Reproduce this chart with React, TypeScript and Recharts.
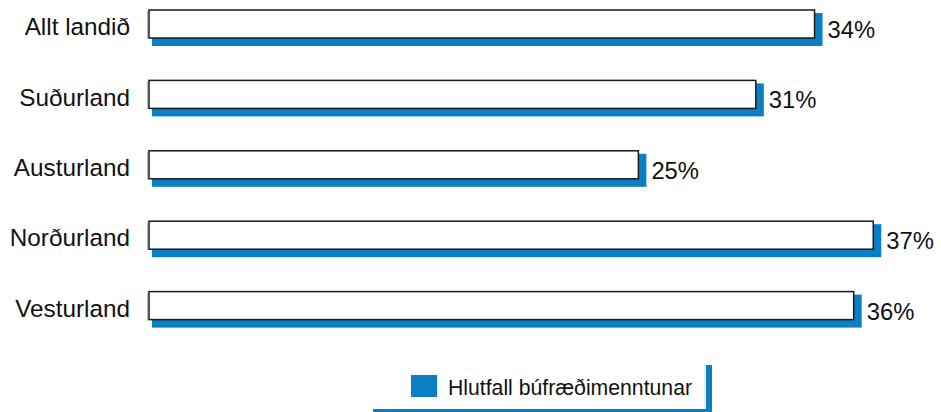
import React from 'react';
import { BarChart, Bar, XAxis, YAxis, Legend, LabelList } from 'recharts';

const categories = ['Allt landið', 'Suðurland', 'Austurland', 'Norðurland', 'Vesturland'];
const values = [34, 31, 25, 37, 36];
const seriesName = 'Hlutfall búfræðimenntunar';

const data = categories.map((name, i) => ({ name, value: values[i] }));

const BLUE = '#0A7FC4';
const FONT = '"Liberation Sans", Arial, sans-serif';

const ShadowBar = (props: any) => {
  const { x, y, width, height } = props;
  return (
    <g>
      <rect x={x + 3} y={y + 3} width={width + 5} height={height + 5} fill={BLUE} />
      <line x1={x - 1.5} y1={y + 1} x2={x - 1.5} y2={y + height + 1} stroke="#bbb" strokeWidth={1} />
      <rect x={x} y={y} width={width} height={height} fill="#fff" stroke="#1a1a1a" strokeWidth={1.5} />
    </g>
  );
};

const CatTick = (props: any) => {
  const { y, payload } = props;
  return (
    <text x={130} y={y + 11} textAnchor="end" fontSize={24.3} fontFamily={FONT} fill="#111">
      {payload.value}
    </text>
  );
};

const ValueLabel = (props: any) => {
  const { x, y, width, height, value } = props;
  return (
    <text x={x + width + 13} y={y + height / 2 + 14} textAnchor="start" fontSize={23.8} fontFamily={FONT} fill="#111">
      {`${value}%`}
    </text>
  );
};

const LegendBox = () => (
  <svg width={345} height={54} style={{ display: 'block' }}>
    <rect x={4} y={7} width={339} height={50} fill={BLUE} />
    <rect x={0} y={0} width={337} height={51} fill="#fff" />
    <line x1={336} y1={7} x2={336} y2={51} stroke="#d8d8d8" strokeWidth={1} />
    <rect x={42} y={17} width={26} height={22} fill={BLUE} />
    <text x={79} y={37} fontSize={22} fontFamily={FONT} fill="#111" textLength={244} lengthAdjust="spacingAndGlyphs">
      {seriesName}
    </text>
  </svg>
);

export default function App() {
  return (
    <div style={{ position: 'absolute', left: 0, top: 0, width: 941, height: 412, overflow: 'hidden', background: '#fff' }}>
      <BarChart
        width={941}
        height={412}
        data={data}
        layout="vertical"
        margin={{ top: -11, right: 9, bottom: 71, left: 0 }}
        barSize={28}
      >
        <XAxis type="number" domain={[0, 40]} hide />
        <YAxis type="category" dataKey="name" width={149} axisLine={false} tickLine={false} tick={<CatTick />} interval={0} />
        <Legend
          layout="vertical"
          align="center"
          verticalAlign="middle"
          content={() => <LegendBox />}
          wrapperStyle={{ position: 'absolute', left: 369, top: 358, width: 345, height: 54 }}
        />
        <Bar dataKey="value" name={seriesName} shape={<ShadowBar />} isAnimationActive={false}>
          <LabelList dataKey="value" content={<ValueLabel />} />
        </Bar>
      </BarChart>
    </div>
  );
}
